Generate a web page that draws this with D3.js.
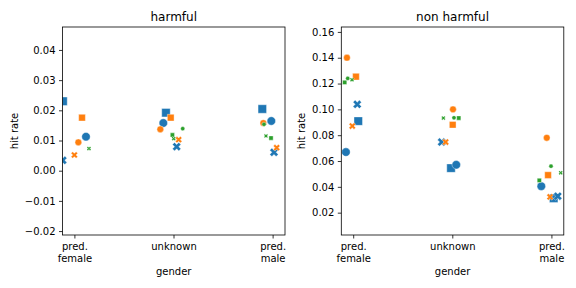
<!DOCTYPE html>
<html><head><meta charset="utf-8">
<script src="https://cdn.jsdelivr.net/npm/d3@7"></script>
<style>body{margin:0;background:#fff}svg{display:block}text{font-family:"DejaVu Sans",sans-serif;fill:#000}</style>
</head><body><svg id="c" width="576" height="288"></svg>
<script>
// ---- data ----
const categories = ["pred.\nfemale", "unknown", "pred.\nmale"];
const hueColors = ["#1f77b4", "#ff7f0e", "#2ca02c"];
const hueSizes = [72, 45, 18]; // marker area (pt^2)
const styles = ["square", "circle", "x"];
const harmfulTicks = [-0.02, -0.01, 0.00, 0.01, 0.02, 0.03, 0.04];
const nonHarmfulTicks = [0.02, 0.04, 0.06, 0.08, 0.10, 0.12, 0.14, 0.16];
// [category, hue, style, jitter, hit rate]
const harmfulPoints = [
  [0,0,"square",-0.115,0.0230],[0,0,"circle",0.117,0.01126],[0,0,"x",-0.118,0.00344],
  [0,1,"square",0.077,0.01756],[0,1,"circle",0.040,0.00941],[0,1,"x",0.000,0.0052],
  [0,2,"x",0.147,0.00735],
  [1,0,"square",-0.076,0.01922],[1,0,"circle",-0.103,0.0158],[1,0,"x",0.032,0.00795],
  [1,1,"square",-0.028,0.01756],[1,1,"circle",-0.133,0.01372],[1,1,"x",0.052,0.01027],
  [1,2,"square",-0.011,0.01183],[1,2,"circle",0.093,0.01392],[1,2,"x",0.002,0.0106],
  [2,0,"square",-0.104,0.02044],[2,0,"circle",-0.013,0.01647],[2,0,"x",0.014,0.00609],
  [2,1,"circle",-0.094,0.0158],[2,1,"x",0.041,0.00762],
  [2,2,"square",-0.016,0.01083],[2,2,"circle",-0.087,0.01537],[2,2,"x",-0.067,0.0115]
];
const nonHarmfulPoints = [
  [0,0,"square",0.051,0.0909],[0,0,"circle",-0.073,0.0669],[0,0,"x",0.041,0.1039],
  [0,1,"square",0.028,0.1253],[0,1,"circle",-0.063,0.140],[0,1,"x",-0.009,0.0871],
  [0,2,"square",-0.086,0.1209],[0,2,"circle",-0.055,0.1240],[0,2,"x",-0.012,0.1229],
  [1,0,"square",-0.013,0.0545],[1,0,"circle",0.040,0.0571],[1,0,"x",-0.107,0.0747],
  [1,1,"square",0.004,0.0881],[1,1,"circle",0.007,0.1000],[1,1,"x",-0.067,0.0747],
  [1,2,"square",0.065,0.0933],[1,2,"circle",0.017,0.0935],[1,2,"x",-0.090,0.0933],
  [2,0,"square",0.023,0.0312],[2,0,"circle",-0.102,0.0405],[2,0,"x",0.064,0.0328],
  [2,1,"square",-0.034,0.0491],[2,1,"circle",-0.047,0.0780],[2,1,"x",-0.014,0.0322],
  [2,2,"square",-0.122,0.0450],[2,2,"circle",-0.004,0.0560],[2,2,"x",0.094,0.0509]
];

const svg = d3.select("#c");
const fmt = v => (v < 0 ? "\u2212" : "") + Math.abs(v).toFixed(2);

function markerPath(style, area) {
  const s = Math.sqrt(area);
  if (style === "circle") {
    const p = d3.path(); p.arc(0, 0, s / 2, 0, 2 * Math.PI); p.closePath(); return p.toString();
  }
  if (style === "square") {
    const h = s / 2; return `M${-h},${-h}H${h}V${h}H${-h}Z`;
  }
  const pts = [[0.25,0],[0.5,0.25],[0.75,0],[1,0.25],[0.75,0.5],[1,0.75],[0.75,1],[0.5,0.75],[0.25,1],[0,0.75],[0.25,0.5],[0,0.25]];
  return "M" + pts.map(([a, b]) => `${(a - 0.5) * s},${(b - 0.5) * s}`).join("L") + "Z";
}

function panel(cfg) {
  const {x0, x1, y0, y1, ydom, ticks, points, title, id} = cfg;
  const x = d3.scaleLinear().domain([-0.12, 2.125]).range([x0, x1]);
  const y = d3.scaleLinear().domain(ydom).range([y1, y0]);
  const g = svg.append("g");
  g.append("clipPath").attr("id", id).append("rect")
    .attr("x", x0).attr("y", y0).attr("width", x1 - x0).attr("height", y1 - y0);
  const sorted = points.slice().sort((a, b) => (a[1] - b[1]) || (styles.indexOf(a[2]) - styles.indexOf(b[2])));
  g.append("g").attr("clip-path", `url(#${id})`).selectAll("path").data(sorted).join("path")
    .attr("d", d => markerPath(d[2], hueSizes[d[1]]))
    .attr("transform", d => `translate(${x(d[0] + d[3])},${y(d[4])})`)
    .attr("fill", d => hueColors[d[1]])
    .attr("stroke", "#fff").attr("stroke-width", 0.4);
  // y axis
  const ya = g.append("g").attr("transform", `translate(${x0},0)`)
    .call(d3.axisLeft(y).tickValues(ticks).tickFormat(fmt).tickSize(3.5).tickPadding(3.5));
  ya.select(".domain").remove();
  ya.selectAll("line").attr("stroke", "#000").attr("stroke-width", 0.8);
  ya.selectAll("text").attr("font-size", 10).attr("font-family", "DejaVu Sans").attr("fill", "#000");
  // x axis
  const xa = g.append("g").attr("transform", `translate(0,${y1})`)
    .call(d3.axisBottom(x).tickValues([0, 1, 2]).tickFormat("").tickSize(3.5));
  xa.select(".domain").remove();
  xa.selectAll("line").attr("stroke", "#000").attr("stroke-width", 0.8);
  xa.selectAll(".tick").each(function(d) {
    const lines = categories[d].split("\n");
    const t = d3.select(this).append("text").attr("text-anchor", "middle")
      .attr("font-size", 10).attr("fill", "#000").attr("y", 15);
    lines.forEach((l, i) => t.append("tspan").attr("x", 0).attr("dy", i ? 11.7 : 0).text(l));
  });
  // frame
  g.append("rect").attr("x", x0).attr("y", y0).attr("width", x1 - x0).attr("height", y1 - y0)
    .attr("fill", "none").attr("stroke", "#000").attr("stroke-width", 0.8);
  g.append("text").attr("x", (x0 + x1) / 2).attr("y", 21).attr("text-anchor", "middle")
    .attr("font-size", 12).text(title);
  g.append("text").attr("x", (x0 + x1) / 2).attr("y", 275).attr("text-anchor", "middle")
    .attr("font-size", 10).text("gender");
  g.append("text").attr("transform", `translate(${cfg.ylabX},${(y0 + y1) / 2}) rotate(-90)`)
    .attr("text-anchor", "middle").attr("font-size", 10).text("hit rate");
}

panel({id: "c1", x0: 62.5, x1: 285, y0: 27, y1: 235, ydom: [-0.0213, 0.0476],
  ticks: harmfulTicks, points: harmfulPoints, title: "harmful", ylabX: 18});
panel({id: "c2", x0: 341.3, x1: 563.8, y0: 27, y1: 235, ydom: [0.0027, 0.1638],
  ticks: nonHarmfulTicks, points: nonHarmfulPoints, title: "non harmful", ylabX: 305});
</script></body></html>
